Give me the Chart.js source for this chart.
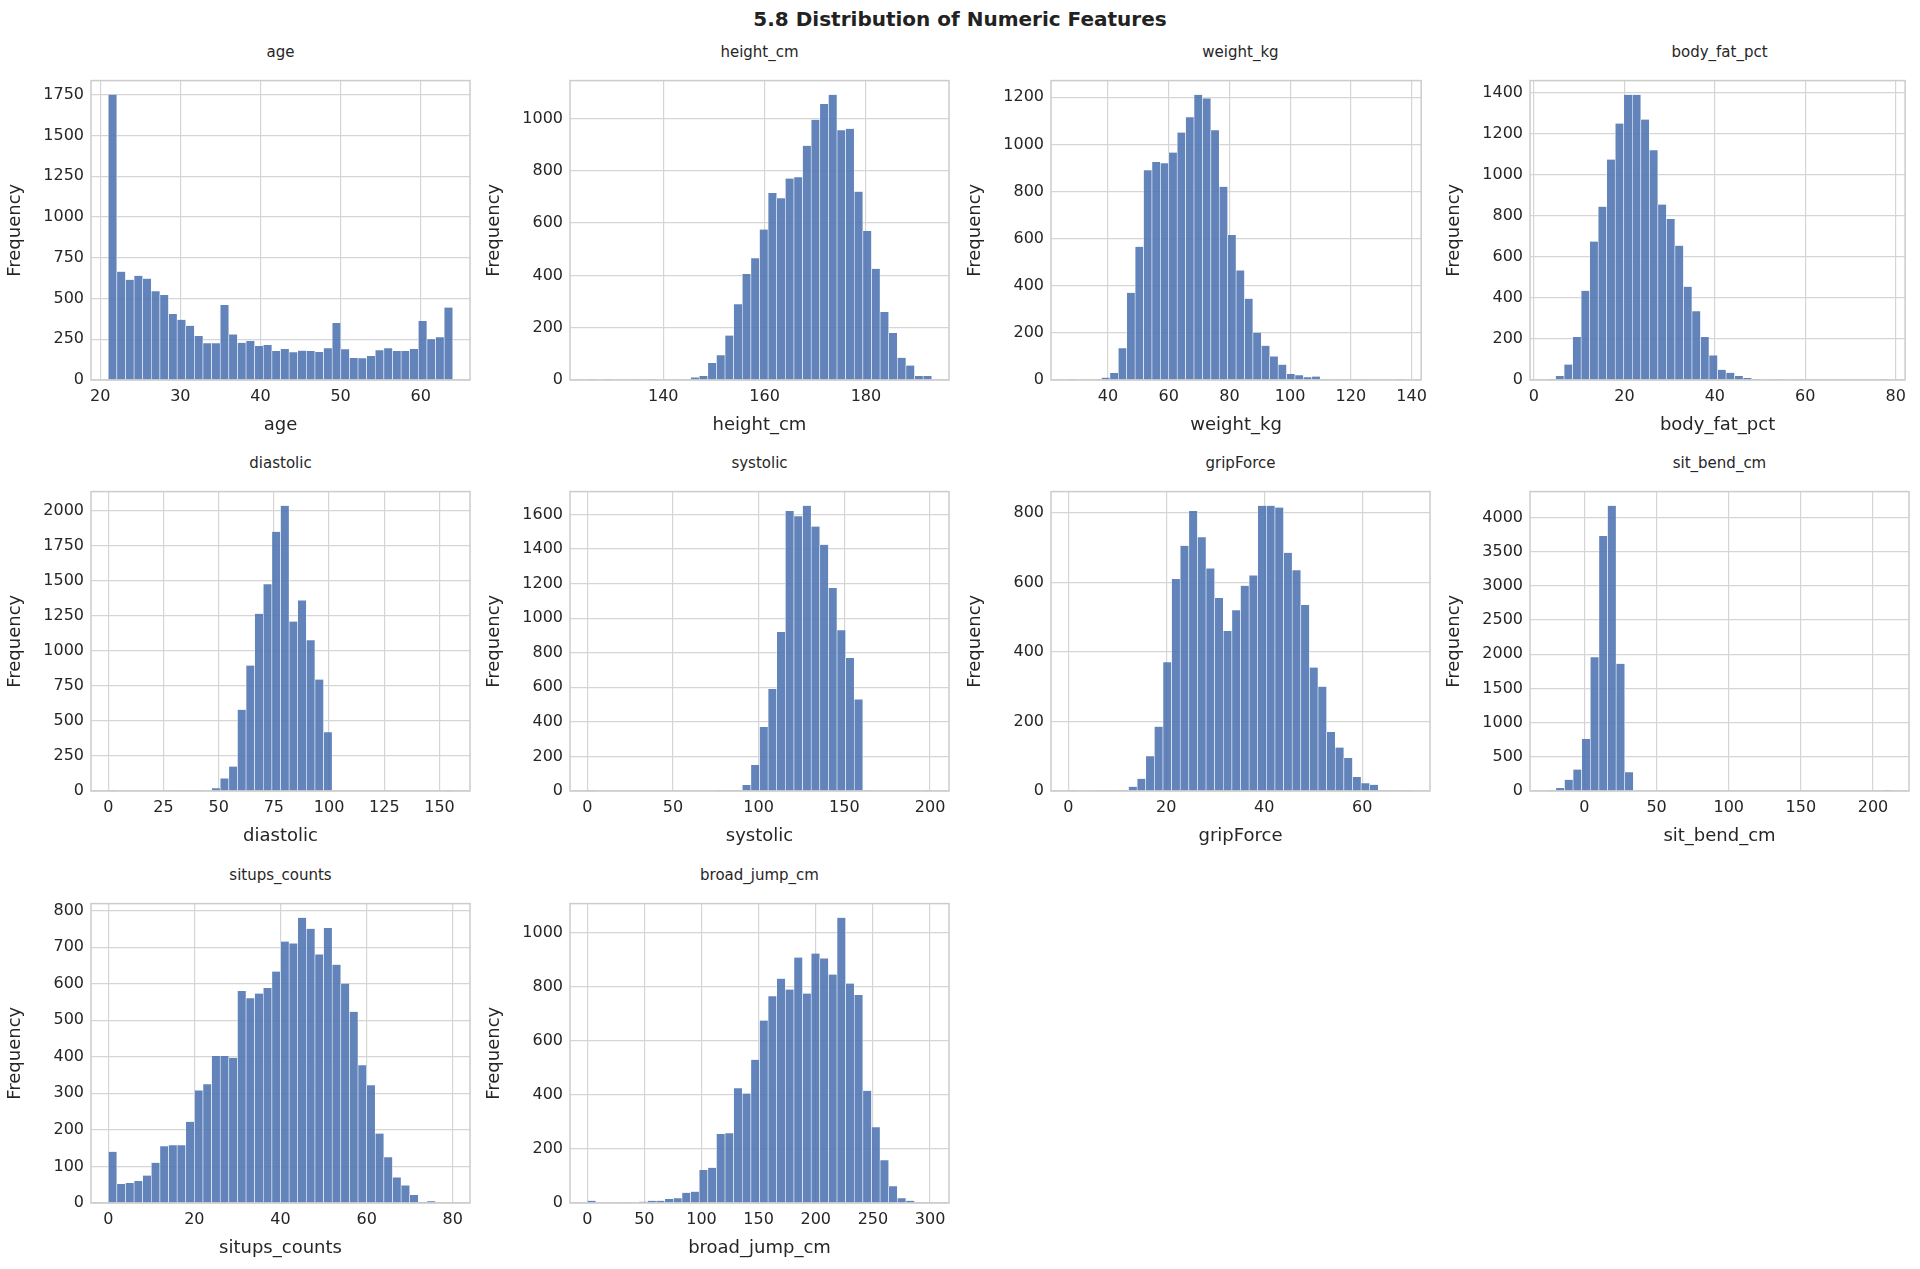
<!DOCTYPE html>
<html>
<head>
<meta charset="utf-8">
<script src="https://cdn.jsdelivr.net/npm/chart.js@4.4.1/dist/chart.umd.min.js"></script>
<style>
    body { margin: 0; background: #fff; width: 1920px; height: 1269px; position: relative; overflow: hidden; font-family: "DejaVu Sans", sans-serif; }
    #mainTitle { position: absolute; top: 7px; left: 0; width: 1920px; text-align: center; font-weight: bold; font-size: 20px; color: #222; }
    .sub { position: absolute; text-align: center; font-size: 15px; color: #262626; }
    canvas { position: absolute; }
</style>
</head>
<body>
<div id="mainTitle">5.8 Distribution of Numeric Features</div>
<script>
// --- Histogram data (40 bins each) ---
const features = ['age', 'height_cm', 'weight_kg', 'body_fat_pct', 'diastolic', 'systolic', 'gripForce', 'sit_bend_cm', 'situps_counts', 'broad_jump_cm'];
const binMin = [21, 125, 26.8, 2.9, 0, 0, 0, -25.8, 0, 0];
const binMax = [64, 193, 137.6, 78.3, 156, 201, 70.3, 213, 80, 301.5];

const ageCounts = [1750, 665, 615, 640, 622, 545, 522, 405, 370, 333, 270, 225, 225, 460, 280, 228, 240, 208, 215, 178, 190, 170, 180, 178, 172, 195, 350, 188, 135, 133, 148, 183, 195, 178, 178, 190, 362, 250, 262, 445];
const heightCounts = [1, 0, 1, 0, 0, 1, 0, 1, 0, 2, 2, 3, 10, 15, 65, 95, 170, 290, 405, 465, 575, 715, 695, 770, 775, 895, 995, 1055, 1090, 955, 960, 720, 570, 425, 260, 180, 85, 55, 15, 15];
const weightCounts = [1, 0, 2, 3, 10, 30, 135, 370, 565, 890, 925, 920, 965, 1050, 1115, 1210, 1195, 1060, 820, 615, 465, 345, 200, 145, 100, 65, 25, 20, 12, 15, 3, 2, 1, 1, 0, 1, 0, 0, 0, 1];
const bodyFatCounts = [5, 20, 75, 210, 435, 675, 845, 1075, 1250, 1390, 1390, 1270, 1120, 855, 785, 655, 455, 335, 210, 120, 50, 35, 20, 10, 5, 2, 1, 1, 0, 1, 0, 0, 0, 0, 0, 0, 0, 0, 0, 1];
const diastolicCounts = [1, 0, 0, 0, 0, 0, 0, 1, 1, 1, 2, 3, 20, 90, 175, 580, 895, 1265, 1475, 1850, 2035, 1210, 1360, 1075, 795, 420, 0, 0, 0, 0, 0, 0, 0, 0, 0, 0, 0, 0, 0, 1];
const systolicCounts = [1, 0, 0, 0, 0, 0, 0, 0, 0, 0, 0, 0, 0, 0, 0, 1, 1, 2, 35, 150, 370, 590, 920, 1620, 1590, 1650, 1530, 1425, 1175, 930, 770, 530, 2, 0, 0, 0, 0, 0, 0, 1];
const gripCounts = [1, 0, 0, 1, 1, 2, 3, 12, 35, 100, 185, 370, 610, 705, 805, 730, 640, 555, 460, 520, 590, 620, 820, 820, 815, 685, 635, 535, 355, 300, 170, 125, 95, 40, 22, 18, 3, 2, 1, 1];
const sitBendCounts = [3, 45, 165, 315, 760, 1955, 3730, 4170, 1860, 275, 0, 0, 0, 0, 0, 0, 0, 0, 0, 0, 0, 0, 0, 0, 0, 0, 0, 0, 0, 0, 0, 0, 0, 0, 0, 0, 0, 0, 0, 1];
const situpsCounts = [140, 52, 55, 60, 75, 110, 155, 158, 158, 222, 308, 325, 402, 402, 397, 580, 560, 573, 588, 633, 715, 710, 780, 750, 680, 752, 652, 600, 523, 377, 322, 190, 125, 70, 48, 22, 3, 5, 0, 0];
const broadJumpCounts = [8, 0, 0, 0, 1, 2, 5, 8, 8, 15, 18, 38, 42, 122, 130, 255, 258, 425, 405, 530, 675, 765, 830, 790, 908, 775, 923, 905, 845, 1055, 812, 770, 415, 280, 158, 62, 18, 8, 3, 2];
const allCounts = [ageCounts, heightCounts, weightCounts, bodyFatCounts, diastolicCounts, systolicCounts, gripCounts, sitBendCounts, situpsCounts, broadJumpCounts];

// tick labels
const xTicks = [
    [20, 30, 40, 50, 60], [140, 160, 180], [40, 60, 80, 100, 120, 140], [0, 20, 40, 60, 80], [0, 25, 50, 75, 100, 125, 150],
    [0, 50, 100, 150, 200], [0, 20, 40, 60], [0, 50, 100, 150, 200], [0, 20, 40, 60, 80], [0, 50, 100, 150, 200, 250, 300]
];
const yTicks = [
    [0, 250, 500, 750, 1000, 1250, 1500, 1750], [0, 200, 400, 600, 800, 1000], [0, 200, 400, 600, 800, 1000, 1200],
    [0, 200, 400, 600, 800, 1000, 1200, 1400], [0, 250, 500, 750, 1000, 1250, 1500, 1750, 2000],
    [0, 200, 400, 600, 800, 1000, 1200, 1400, 1600], [0, 200, 400, 600, 800],
    [0, 500, 1000, 1500, 2000, 2500, 3000, 3500, 4000], [0, 100, 200, 300, 400, 500, 600, 700, 800],
    [0, 200, 400, 600, 800, 1000]
];

// --- panel layout (plot area in page px) ---
const colX = [91, 570, 1051, 1530];
const rowY = [66, 477, 889];
const plotW = 379, plotH = 314;
const Y_AXIS_W = 90, X_AXIS_H = 60;

// matplotlib style frame round the plot area
const frameBox = {
    id: 'frameBox',
    afterDraw(chart) {
        const { ctx, chartArea: a } = chart;
        ctx.save();
        ctx.strokeStyle = '#cccccc';
        ctx.lineWidth = 1.5;
        ctx.strokeRect(a.left, a.top, a.right - a.left, a.bottom - a.top);
        ctx.restore();
    }
};

function makePanel(i) {
    const col = i % 4, row = Math.floor(i / 4);
    const L = colX[col], T = rowY[row];

    const title = document.createElement('div');
    title.className = 'sub';
    title.style.left = L + 'px';
    title.style.width = plotW + 'px';
    title.style.top = (T - 23) + 'px';
    title.innerText = features[i];
    document.body.appendChild(title);

    const canvas = document.createElement('canvas');
    const cw = plotW + Y_AXIS_W + 4, ch = plotH + 2 + X_AXIS_H;
    canvas.style.left = (L - Y_AXIS_W) + 'px';
    canvas.style.top = (T - 2) + 'px';
    canvas.style.width = cw + 'px';
    canvas.style.height = ch + 'px';
    canvas.width = cw; canvas.height = ch;
    document.body.appendChild(canvas);

    const counts = allCounts[i];
    const w = (binMax[i] - binMin[i]) / counts.length;
    const pts = counts.map((c, k) => ({ x: binMin[i] + w * (k + 0.5), y: c }));
    const span = binMax[i] - binMin[i];
    const maxC = Math.max(...counts);

    new Chart(canvas.getContext('2d'), {
        type: 'bar',
        data: {
            datasets: [{
                data: pts,
                backgroundColor: 'rgba(76,114,176,0.87)',
                borderColor: 'rgba(255,255,255,0.9)',
                borderWidth: { left: 0.6, right: 0.6, top: 0, bottom: 0 },
                barPercentage: 1,
                categoryPercentage: 1,
                borderSkipped: false
            }]
        },
        options: {
            responsive: false,
            animation: false,
            layout: { padding: { top: 2, right: 4, left: 0, bottom: 0 } },
            plugins: { legend: { display: false }, tooltip: { enabled: false } },
            scales: {
                x: {
                    type: 'linear',
                    offset: false,
                    min: binMin[i] - span * 0.05,
                    max: binMax[i] + span * 0.05,
                    afterBuildTicks: s => { s.ticks = xTicks[i].map(v => ({ value: v })); },
                    afterFit: s => { s.height = X_AXIS_H; },
                    ticks: { font: { family: 'DejaVu Sans', size: 16 }, color: '#262626', maxRotation: 0, padding: 7, callback: v => String(v) },
                    grid: { color: '#d5d5d5', lineWidth: 1.2, drawTicks: false, offset: false },
                    border: { display: false },
                    title: { display: true, text: features[i], font: { family: 'DejaVu Sans', size: 18 }, color: '#262626', padding: { top: 3 } }
                },
                y: {
                    min: 0,
                    max: maxC * 1.05,
                    afterBuildTicks: s => { s.ticks = yTicks[i].map(v => ({ value: v })); },
                    afterFit: s => { s.width = Y_AXIS_W; },
                    ticks: { font: { family: 'DejaVu Sans', size: 16 }, color: '#262626', padding: 7, callback: v => String(v) },
                    grid: { color: '#d5d5d5', lineWidth: 1.2, drawTicks: false },
                    border: { display: false },
                    title: { display: true, text: 'Frequency', font: { family: 'DejaVu Sans', size: 18 }, color: '#262626', padding: { bottom: 2 } }
                }
            }
        },
        plugins: [frameBox]
    });
}

features.forEach((_, i) => makePanel(i));
</script>
</body>
</html>
